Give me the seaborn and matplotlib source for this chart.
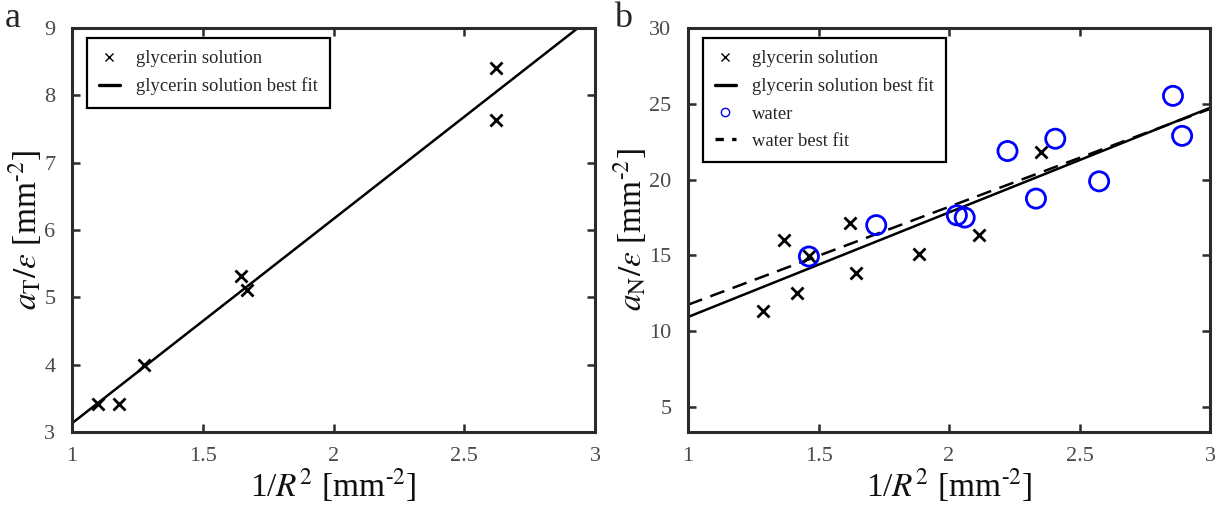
import numpy as np
import pandas as pd
import matplotlib
matplotlib.use("Agg")
import matplotlib.pyplot as plt
from matplotlib.lines import Line2D
import seaborn as sns

# ---- data ----
a_gly_x = [1.10, 1.18, 1.276, 1.647, 1.669, 2.622, 2.622]
a_gly_y = [3.41, 3.41, 4.00, 5.32, 5.11, 8.40, 7.64]
a_fit = [3.035, 0.095]           # slope, intercept

b_gly_x = [1.288, 1.366, 1.418, 1.463, 1.619, 1.645, 1.885, 2.116, 2.354]
b_gly_y = [11.33, 16.05, 12.52, 14.93, 17.15, 13.83, 15.10, 16.34, 21.82]
b_wat_x = [1.463, 1.721, 2.030, 2.060, 2.224, 2.333, 2.407, 2.575, 2.858, 2.893]
b_wat_y = [14.93, 17.00, 17.65, 17.50, 21.89, 18.75, 22.70, 19.89, 25.53, 22.89]
b_gly_fit = [6.90, 4.04]
b_wat_fit = [6.46, 5.29]

x_ticks = [1, 1.5, 2, 2.5, 3]
x_ticklabels = ["1", "1.5", "2", "2.5", "3"]
a_yticks = [3, 4, 5, 6, 7, 8, 9]
b_yticks = [5, 10, 15, 20, 25, 30]

sns.set_theme(style="white")
plt.rcParams['font.family'] = ['Liberation Serif', 'DejaVu Serif']
plt.rcParams['mathtext.fontset'] = 'stix'

fig = plt.figure(figsize=(12.23, 5.11), dpi=100)
axA = fig.add_axes([0.0589, 0.1546, 0.4276, 0.7904])
axB = fig.add_axes([0.5626, 0.1546, 0.4268, 0.7904])

spine_col = '#2b2b2b'
tick_col = '#4a4a4a'
SUP = r'$^{\text{-2}}$'

def style(ax, yticks, ylim):
    ax.set_xlim(1, 3)
    ax.set_ylim(*ylim)
    ax.set_xticks(x_ticks)
    ax.set_xticklabels(x_ticklabels)
    ax.set_yticks(yticks)
    ax.set_yticklabels([str(v) for v in yticks])
    for s in ax.spines.values():
        s.set_visible(True)
        s.set_color(spine_col)
        s.set_linewidth(2.2)
    ax.tick_params(direction='in', length=6, width=1.8, color=spine_col,
                   top=True, right=True, bottom=True, left=True,
                   labelsize=16, labelcolor=tick_col)
    ax.tick_params(axis='x', pad=11)
    ax.tick_params(axis='y', pad=12)
    ax.set_xlabel(r'1/$R^2$ [mm' + SUP + ']', fontsize=24, color='#111111', labelpad=0)

xs = np.array([1.0, 3.0])

def legend(ax, handles, labels):
    leg = ax.legend(handles, labels, loc='upper left', bbox_to_anchor=(0.028, 0.975),
                    borderaxespad=0, fontsize=13.4, frameon=True, fancybox=False,
                    edgecolor='black', framealpha=1, handlelength=1.15,
                    handletextpad=0.85, borderpad=0.65, labelspacing=0.55)
    leg.get_frame().set_linewidth(1.6)
    return leg

# ---- panel a ----
dfa = pd.DataFrame({'x': a_gly_x, 'y': a_gly_y})
sns.lineplot(x=xs, y=a_fit[0] * xs + a_fit[1], ax=axA, color='black', lw=1.8)
sns.scatterplot(data=dfa, x='x', y='y', ax=axA, marker='x', color='black',
                s=75, linewidth=2.0, zorder=3)
style(axA, a_yticks, (3, 9))
axA.set_ylabel(r'$a_{\mathrm{T}}/\varepsilon$ [mm' + SUP + ']', fontsize=24, color='#111111', labelpad=0)
hA = [Line2D([], [], ls='none', marker='x', color='black', ms=6, mew=1.0),
      Line2D([], [], color='black', lw=2.4)]
legend(axA, hA, ['glycerin solution', 'glycerin solution best fit'])
fig.text(0.004, 1 - 27 / 511, 'a', fontsize=26, va='baseline', ha='left')

# ---- panel b ----
dfg = pd.DataFrame({'x': b_gly_x, 'y': b_gly_y})
dfw = pd.DataFrame({'x': b_wat_x, 'y': b_wat_y})
sns.lineplot(x=xs, y=b_gly_fit[0] * xs + b_gly_fit[1], ax=axB, color='black', lw=1.8)
sns.lineplot(x=xs, y=b_wat_fit[0] * xs + b_wat_fit[1], ax=axB, color='black', lw=1.8,
             linestyle=(0, (6, 3.5)))
sns.scatterplot(data=dfg, x='x', y='y', ax=axB, marker='x', color='black',
                s=75, linewidth=2.0, zorder=3)
sns.scatterplot(data=dfw, x='x', y='y', ax=axB, marker='o', facecolors='none',
                edgecolor='#0000ff', s=190, linewidth=2.0, zorder=4)
style(axB, b_yticks, (3.35, 30))
axB.set_ylabel(r'$a_{\mathrm{N}}/\varepsilon$ [mm' + SUP + ']', fontsize=24, color='#111111', labelpad=0)
hB = [Line2D([], [], ls='none', marker='x', color='black', ms=6, mew=1.0),
      Line2D([], [], color='black', lw=2.4),
      Line2D([], [], ls='none', marker='o', mfc='none', mec='#0000ff', ms=6, mew=1.0),
      Line2D([], [], color='black', lw=2.4, ls=(0, (2.5, 2.5)))]
legend(axB, hB, ['glycerin solution', 'glycerin solution best fit', 'water', 'water best fit'])
fig.text(0.502, 1 - 27 / 511, 'b', fontsize=26, va='baseline', ha='left')

fig.savefig('out.png', dpi=100)
